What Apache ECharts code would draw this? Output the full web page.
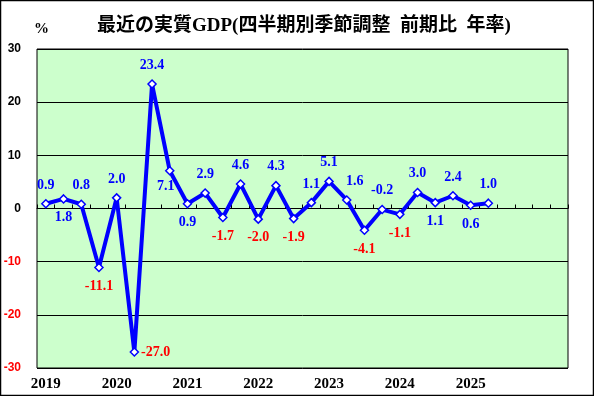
<!DOCTYPE html>
<html><head><meta charset="utf-8">
<script src="https://cdn.jsdelivr.net/npm/echarts@6/dist/echarts.min.js"></script>
<style>html,body{margin:0;padding:0;background:#fff}#c{width:594px;height:396px}</style>
</head><body><div id="c"></div>
<script>
var categories = ['2019Q1','2019Q2','2019Q3','2019Q4','2020Q1','2020Q2','2020Q3','2020Q4',
  '2021Q1','2021Q2','2021Q3','2021Q4','2022Q1','2022Q2','2022Q3','2022Q4',
  '2023Q1','2023Q2','2023Q3','2023Q4','2024Q1','2024Q2','2024Q3','2024Q4',
  '2025Q1','2025Q2','2025Q3','2025Q4','2026Q1','2026Q2'];
var yearLabels = ['2019','2020','2021','2022','2023','2024','2025'];
var gdpValues = [0.9,1.8,0.8,-11.1,2.0,-27.0,23.4,7.1,0.9,2.9,-1.7,4.6,-2.0,4.3,-1.9,1.1,5.1,1.6,-4.1,-0.2,-1.1,3.0,1.1,2.4,0.6,1.0];
var labelSide = ['top','bottom','top','bottom','top','right','top','bottom','bottom','top','bottom','top','bottom','top','bottom','top','top','top','bottom','top','bottom','top','bottom','top','bottom','top'];
var yTicks = [-30,-20,-10,0,10,20,30];

var chart = echarts.init(document.getElementById('c'), null, {renderer:'canvas'});
var items = gdpValues.map(function(v,i){
  var lab = {position: labelSide[i], color: v < -0.5 ? '#ff0000' : '#0000ff'};
  if (i === 7) { lab.offset = [-4, -3]; }
  if (i === 17) { lab.offset = [8, 0]; }
  if (i === 5) { lab.distance = 2; }
  return {value: v, label: lab};
});
chart.setOption({
  animation: false,
  grid: {left: 37, right: 26, top: 49, bottom: 28, show: true, backgroundColor: '#ccffcc', borderColor: '#000', borderWidth: 1},
  xAxis: [{
    type: 'category', data: categories, position: 'bottom', boundaryGap: true,
    axisLine: {show: false, onZero: false}, axisTick: {show: false},
    axisLabel: {interval: 0, margin: 9, color: '#000', fontFamily: '"Liberation Serif", serif', fontWeight: 'bold', fontSize: 15,
      formatter: function(v){ var y = v.slice(0,4); return (v.slice(4) === 'Q1' && yearLabels.indexOf(y) >= 0) ? y : ''; }},
    splitLine: {show: false}
  },{
    type: 'category', data: categories, position: 'top', boundaryGap: true,
    axisLine: {show: true, onZero: true, lineStyle: {color: '#000', width: 1}},
    axisTick: {show: true, interval: 0, length: 4, inside: false, lineStyle: {color: '#000'}},
    axisLabel: {show: false}, splitLine: {show: false}
  }],
  yAxis: {
    type: 'value', min: -30, max: 30, interval: 10,
    axisLine: {show: false}, axisTick: {show: false},
    splitLine: {show: true, lineStyle: {color: '#000', width: 1}},
    axisLabel: {margin: 16, fontFamily: '"Liberation Sans", Arial, sans-serif', fontWeight: 'bold', fontSize: 12,
      color: function(v){ return Number(v) < 0 ? '#ff0000' : '#000000'; },
      formatter: function(v){ return yTicks.indexOf(v) >= 0 ? String(v) : ''; }}
  },
  series: [{
    type: 'line', xAxisIndex: 0, data: items,
    lineStyle: {color: '#0000ff', width: 4},
    symbol: 'diamond', symbolSize: 8, showAllSymbol: true,
    itemStyle: {color: '#ffffff', borderColor: '#0000ff', borderWidth: 1.5},
    label: {show: true, distance: 7, fontFamily: '"Liberation Serif", serif', fontWeight: 'bold', fontSize: 14,
      formatter: function(p){ return Number(p.value).toFixed(1); }},
    z: 5
  }],
  graphic: [
    {type: 'rect', shape: {x: 0.5, y: 0.5, width: 593, height: 395}, style: {fill: 'none', stroke: '#000', lineWidth: 1.5}, silent: true},
    {type: 'text', left: 34, top: 22, style: {text: '%', font: 'bold 15px "Liberation Serif", serif', fill: '#000'}},
    {type: 'text', left: 97, top: 17, style: {text: '最近の実質GDP(四半期別季節調整  前期比  年率)', font: 'bold 19px "Liberation Serif", "Noto Sans CJK JP", serif', fill: '#000'}}
  ]
});
</script></body></html>
